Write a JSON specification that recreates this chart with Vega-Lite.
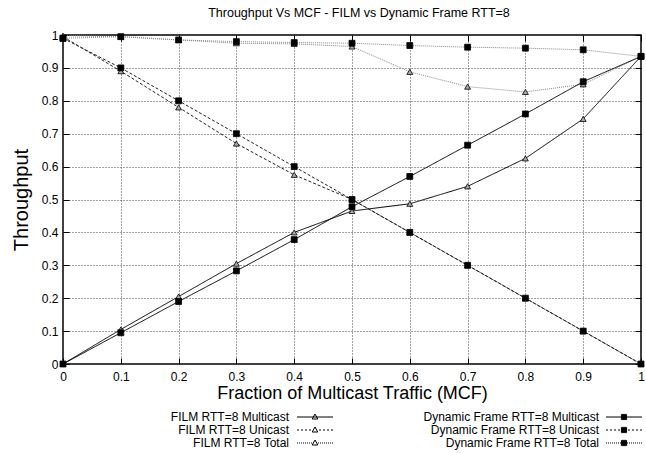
{
  "$schema": "https://vega.github.io/schema/vega-lite/v6.json",
  "width": 578,
  "height": 329,
  "autosize": {"type": "none"},
  "padding": {"left": 63, "top": 35, "right": 5, "bottom": 89},
  "title": {"text": "Throughput Vs MCF - FILM vs Dynamic Frame RTT=8", "fontSize": 12.5, "fontWeight": "normal", "font": "Liberation Sans", "offset": 10, "dx": 7, "color": "black"},
  "config": {
    "view": {"stroke": "black", "strokeWidth": 1.5},
    "font": "Liberation Sans",
    "axis": {"labelFont": "Liberation Sans", "titleFont": "Liberation Sans", "labelColor": "black", "titleColor": "black", "titleFontWeight": "normal"}
  },
  "data": {"values": [
    {"mcf": 0, "series": "FILM RTT=8 Multicast", "tp": 0},
    {"mcf": 0.1, "series": "FILM RTT=8 Multicast", "tp": 0.105},
    {"mcf": 0.2, "series": "FILM RTT=8 Multicast", "tp": 0.205},
    {"mcf": 0.3, "series": "FILM RTT=8 Multicast", "tp": 0.305},
    {"mcf": 0.4, "series": "FILM RTT=8 Multicast", "tp": 0.4},
    {"mcf": 0.5, "series": "FILM RTT=8 Multicast", "tp": 0.465},
    {"mcf": 0.6, "series": "FILM RTT=8 Multicast", "tp": 0.487},
    {"mcf": 0.7, "series": "FILM RTT=8 Multicast", "tp": 0.54},
    {"mcf": 0.8, "series": "FILM RTT=8 Multicast", "tp": 0.625},
    {"mcf": 0.9, "series": "FILM RTT=8 Multicast", "tp": 0.745},
    {"mcf": 1, "series": "FILM RTT=8 Multicast", "tp": 0.935},
    {"mcf": 0, "series": "FILM RTT=8 Unicast", "tp": 0.995},
    {"mcf": 0.1, "series": "FILM RTT=8 Unicast", "tp": 0.89},
    {"mcf": 0.2, "series": "FILM RTT=8 Unicast", "tp": 0.78},
    {"mcf": 0.3, "series": "FILM RTT=8 Unicast", "tp": 0.67},
    {"mcf": 0.4, "series": "FILM RTT=8 Unicast", "tp": 0.575},
    {"mcf": 0.5, "series": "FILM RTT=8 Unicast", "tp": 0.5},
    {"mcf": 0.6, "series": "FILM RTT=8 Unicast", "tp": 0.4},
    {"mcf": 0.7, "series": "FILM RTT=8 Unicast", "tp": 0.3},
    {"mcf": 0.8, "series": "FILM RTT=8 Unicast", "tp": 0.2},
    {"mcf": 0.9, "series": "FILM RTT=8 Unicast", "tp": 0.1},
    {"mcf": 1, "series": "FILM RTT=8 Unicast", "tp": 0},
    {"mcf": 0, "series": "FILM RTT=8 Total", "tp": 0.998},
    {"mcf": 0.1, "series": "FILM RTT=8 Total", "tp": 0.995},
    {"mcf": 0.2, "series": "FILM RTT=8 Total", "tp": 0.985},
    {"mcf": 0.3, "series": "FILM RTT=8 Total", "tp": 0.975},
    {"mcf": 0.4, "series": "FILM RTT=8 Total", "tp": 0.973},
    {"mcf": 0.5, "series": "FILM RTT=8 Total", "tp": 0.965},
    {"mcf": 0.6, "series": "FILM RTT=8 Total", "tp": 0.888},
    {"mcf": 0.7, "series": "FILM RTT=8 Total", "tp": 0.843},
    {"mcf": 0.8, "series": "FILM RTT=8 Total", "tp": 0.827},
    {"mcf": 0.9, "series": "FILM RTT=8 Total", "tp": 0.85},
    {"mcf": 1, "series": "FILM RTT=8 Total", "tp": 0.935},
    {"mcf": 0, "series": "Dynamic Frame RTT=8 Multicast", "tp": 0},
    {"mcf": 0.1, "series": "Dynamic Frame RTT=8 Multicast", "tp": 0.095},
    {"mcf": 0.2, "series": "Dynamic Frame RTT=8 Multicast", "tp": 0.19},
    {"mcf": 0.3, "series": "Dynamic Frame RTT=8 Multicast", "tp": 0.283},
    {"mcf": 0.4, "series": "Dynamic Frame RTT=8 Multicast", "tp": 0.378},
    {"mcf": 0.5, "series": "Dynamic Frame RTT=8 Multicast", "tp": 0.478},
    {"mcf": 0.6, "series": "Dynamic Frame RTT=8 Multicast", "tp": 0.57},
    {"mcf": 0.7, "series": "Dynamic Frame RTT=8 Multicast", "tp": 0.665},
    {"mcf": 0.8, "series": "Dynamic Frame RTT=8 Multicast", "tp": 0.76},
    {"mcf": 0.9, "series": "Dynamic Frame RTT=8 Multicast", "tp": 0.858},
    {"mcf": 1, "series": "Dynamic Frame RTT=8 Multicast", "tp": 0.935},
    {"mcf": 0, "series": "Dynamic Frame RTT=8 Unicast", "tp": 0.99},
    {"mcf": 0.1, "series": "Dynamic Frame RTT=8 Unicast", "tp": 0.9},
    {"mcf": 0.2, "series": "Dynamic Frame RTT=8 Unicast", "tp": 0.8},
    {"mcf": 0.3, "series": "Dynamic Frame RTT=8 Unicast", "tp": 0.7},
    {"mcf": 0.4, "series": "Dynamic Frame RTT=8 Unicast", "tp": 0.6},
    {"mcf": 0.5, "series": "Dynamic Frame RTT=8 Unicast", "tp": 0.5},
    {"mcf": 0.6, "series": "Dynamic Frame RTT=8 Unicast", "tp": 0.4},
    {"mcf": 0.7, "series": "Dynamic Frame RTT=8 Unicast", "tp": 0.3},
    {"mcf": 0.8, "series": "Dynamic Frame RTT=8 Unicast", "tp": 0.2},
    {"mcf": 0.9, "series": "Dynamic Frame RTT=8 Unicast", "tp": 0.1},
    {"mcf": 1, "series": "Dynamic Frame RTT=8 Unicast", "tp": 0},
    {"mcf": 0, "series": "Dynamic Frame RTT=8 Total", "tp": 0.99},
    {"mcf": 0.1, "series": "Dynamic Frame RTT=8 Total", "tp": 0.995},
    {"mcf": 0.2, "series": "Dynamic Frame RTT=8 Total", "tp": 0.985},
    {"mcf": 0.3, "series": "Dynamic Frame RTT=8 Total", "tp": 0.98},
    {"mcf": 0.4, "series": "Dynamic Frame RTT=8 Total", "tp": 0.977},
    {"mcf": 0.5, "series": "Dynamic Frame RTT=8 Total", "tp": 0.975},
    {"mcf": 0.6, "series": "Dynamic Frame RTT=8 Total", "tp": 0.968},
    {"mcf": 0.7, "series": "Dynamic Frame RTT=8 Total", "tp": 0.963},
    {"mcf": 0.8, "series": "Dynamic Frame RTT=8 Total", "tp": 0.96},
    {"mcf": 0.9, "series": "Dynamic Frame RTT=8 Total", "tp": 0.955},
    {"mcf": 1, "series": "Dynamic Frame RTT=8 Total", "tp": 0.935}
  ]},
  "layer": [
    {
      "mark": {"type": "line", "strokeWidth": 1},
      "encoding": {
        "x": {"field": "mcf", "type": "quantitative", "scale": {"domain": [0, 1], "nice": false},
              "axis": {"values": [0,0.1,0.2,0.3,0.4,0.5,0.6,0.7,0.8,0.9,1], "format": "~g", "title": "Fraction of Multicast Traffic (MCF)", "titleFontSize": 18, "titlePadding": 2, "labelFontSize": 12, "tickSize": -6, "tickColor": "black", "labelPadding": 13, "domain": false, "grid": true, "gridDash": [1, 2], "gridColor": "#444", "gridOpacity": 1, "labelFlush": false}},
        "y": {"field": "tp", "type": "quantitative", "scale": {"domain": [0, 1], "nice": false},
              "axis": {"values": [0,0.1,0.2,0.3,0.4,0.5,0.6,0.7,0.8,0.9,1], "format": "~g", "title": "Throughput", "titleFontSize": 20, "titlePadding": 10, "labelFontSize": 12, "tickSize": -6, "tickColor": "black", "labelPadding": 11, "domain": false, "grid": true, "gridDash": [1, 2], "gridColor": "#444", "gridOpacity": 1, "labelFlush": false}},
        "detail": {"field": "series"},
        "color": {"field": "series", "type": "nominal", "legend": null,
                  "scale": {"domain": ["FILM RTT=8 Multicast", "FILM RTT=8 Unicast", "FILM RTT=8 Total", "Dynamic Frame RTT=8 Multicast", "Dynamic Frame RTT=8 Unicast", "Dynamic Frame RTT=8 Total"],
                            "range": ["#000000", "#222222", "#888888", "#000000", "#222222", "#888888"]}},
        "strokeDash": {"field": "series", "type": "nominal", "legend": null,
                  "scale": {"domain": ["FILM RTT=8 Multicast", "FILM RTT=8 Unicast", "FILM RTT=8 Total", "Dynamic Frame RTT=8 Multicast", "Dynamic Frame RTT=8 Unicast", "Dynamic Frame RTT=8 Total"],
                            "range": [[1, 0], [3, 2], [1, 1], [1, 0], [3, 2], [1, 1]]}}
      }
    },
    {
      "mark": {"type": "point", "filled": true, "stroke": "black", "strokeWidth": 0.8, "opacity": 1},
      "encoding": {
        "x": {"field": "mcf", "type": "quantitative", "axis": null},
        "y": {"field": "tp", "type": "quantitative", "axis": null},
        "shape": {"field": "series", "type": "nominal", "legend": null,
                  "scale": {"domain": ["FILM RTT=8 Multicast", "FILM RTT=8 Unicast", "FILM RTT=8 Total", "Dynamic Frame RTT=8 Multicast", "Dynamic Frame RTT=8 Unicast", "Dynamic Frame RTT=8 Total"],
                            "range": ["triangle-up", "triangle-up", "triangle-up", "square", "square", "square"]}},
        "fill": {"field": "series", "type": "nominal", "legend": null,
                  "scale": {"domain": ["FILM RTT=8 Multicast", "FILM RTT=8 Unicast", "FILM RTT=8 Total", "Dynamic Frame RTT=8 Multicast", "Dynamic Frame RTT=8 Unicast", "Dynamic Frame RTT=8 Total"],
                            "range": ["#aaaaaa", "#aaaaaa", "#aaaaaa", "#000000", "#000000", "#000000"]}},
        "size": {"field": "series", "type": "nominal", "legend": null,
                  "scale": {"domain": ["FILM RTT=8 Multicast", "FILM RTT=8 Unicast", "FILM RTT=8 Total", "Dynamic Frame RTT=8 Multicast", "Dynamic Frame RTT=8 Unicast", "Dynamic Frame RTT=8 Total"],
                            "range": [35, 35, 35, 50, 50, 50]}}
      }
    },
    {
      "transform": [{"filter": "indexof(datum.series, 'FILM') === 0"}],
      "mark": {"type": "point", "filled": false, "color": "black", "opacity": 0, "size": 16, "strokeWidth": 1},
      "encoding": {
        "x": {"field": "mcf", "type": "quantitative", "axis": null},
        "y": {"field": "tp", "type": "quantitative", "axis": null},
        "shape": {"field": "series", "type": "nominal",
                  "scale": {"domain": ["FILM RTT=8 Multicast", "FILM RTT=8 Unicast", "FILM RTT=8 Total"],
                            "range": [
                              "M-9,0L9,0M0,-1.5L1.4,1L-1.4,1Z",
                              "M-9,0L-8,0M-7,0L-6,0M-5,0L-4,0M-3,0L-2,0M2,0L3,0M4,0L5,0M6,0L7,0M8,0L9,0M0,-1.5L1.4,1L-1.4,1Z",
                              "M-9,0L-8.5,0M-8,0L-7.5,0M-7,0L-6.5,0M-6,0L-5.5,0M-5,0L-4.5,0M-4,0L-3.5,0M-3,0L-2.5,0M-2,0L-1.5,0M1.5,0L2,0M2.5,0L3,0M3.5,0L4,0M4.5,0L5,0M5.5,0L6,0M6.5,0L7,0M7.5,0L8,0M8.5,0L9,0M0,-1.5L1.4,1L-1.4,1Z"
                            ]},
                  "legend": {"orient": "none", "legendX": 227, "legendY": 376, "title": null, "symbolSize": 16, "symbolStrokeWidth": 1, "symbolStrokeColor": "black", "symbolOffset": 19, "labelOffset": -32, "labelAlign": "right", "labelFontSize": 12, "labelColor": "black", "rowPadding": 1, "labelLimit": 300}}
      }
    },
    {
      "transform": [{"filter": "indexof(datum.series, 'Dynamic') === 0"}],
      "mark": {"type": "point", "filled": false, "color": "black", "opacity": 0, "size": 16, "strokeWidth": 1},
      "encoding": {
        "x": {"field": "mcf", "type": "quantitative", "axis": null},
        "y": {"field": "tp", "type": "quantitative", "axis": null},
        "shape": {"field": "series", "type": "nominal",
                  "scale": {"domain": ["Dynamic Frame RTT=8 Multicast", "Dynamic Frame RTT=8 Unicast", "Dynamic Frame RTT=8 Total"],
                            "range": [
                              "M-9,0L9,0M-1.3,-1.3L1.3,-1.3L1.3,1.3L-1.3,1.3ZM-1.3,-0.75L1.3,-0.75M-1.3,-0.25L1.3,-0.25M-1.3,0.25L1.3,0.25M-1.3,0.75L1.3,0.75",
                              "M-9,0L-8,0M-7,0L-6,0M-5,0L-4,0M-3,0L-2,0M2,0L3,0M4,0L5,0M6,0L7,0M8,0L9,0M-1.3,-1.3L1.3,-1.3L1.3,1.3L-1.3,1.3ZM-1.3,-0.75L1.3,-0.75M-1.3,-0.25L1.3,-0.25M-1.3,0.25L1.3,0.25M-1.3,0.75L1.3,0.75",
                              "M-9,0L-8.5,0M-8,0L-7.5,0M-7,0L-6.5,0M-6,0L-5.5,0M-5,0L-4.5,0M-4,0L-3.5,0M-3,0L-2.5,0M-2,0L-1.5,0M1.5,0L2,0M2.5,0L3,0M3.5,0L4,0M4.5,0L5,0M5.5,0L6,0M6.5,0L7,0M7.5,0L8,0M8.5,0L9,0M-1.3,-1.3L1.3,-1.3L1.3,1.3L-1.3,1.3ZM-1.3,-0.75L1.3,-0.75M-1.3,-0.25L1.3,-0.25M-1.3,0.25L1.3,0.25M-1.3,0.75L1.3,0.75"
                            ]},
                  "legend": {"orient": "none", "legendX": 536, "legendY": 376, "title": null, "symbolSize": 16, "symbolStrokeWidth": 1, "symbolStrokeColor": "black", "symbolOffset": 19, "labelOffset": -31, "labelAlign": "right", "labelFontSize": 12, "labelColor": "black", "rowPadding": 1, "labelLimit": 300}}
      }
    },
    {
      "mark": {"type": "point", "opacity": 0},
      "encoding": {
        "x": {"field": "mcf", "type": "quantitative",
              "axis": {"orient": "top", "values": [0,0.1,0.2,0.3,0.4,0.5,0.6,0.7,0.8,0.9,1], "labels": false, "title": null, "tickSize": -6, "tickColor": "black", "domain": false, "grid": false}},
        "y": {"field": "tp", "type": "quantitative",
              "axis": {"orient": "right", "values": [0,0.1,0.2,0.3,0.4,0.5,0.6,0.7,0.8,0.9,1], "labels": false, "title": null, "tickSize": -6, "tickColor": "black", "domain": false, "grid": false}}
      }
    }
  ],
  "resolve": {
    "scale": {"shape": "independent", "strokeDash": "independent", "color": "independent", "fill": "independent", "size": "independent"},
    "axis": {"x": "independent", "y": "independent"}
  }
}
